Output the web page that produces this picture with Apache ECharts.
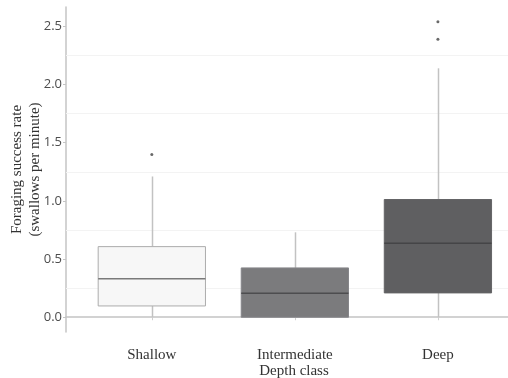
<!DOCTYPE html>
<html>
<head>
<meta charset="utf-8">
<style>
  html, body { margin: 0; padding: 0; background: #ffffff; }
  #chart { width: 508px; height: 378px; }
</style>
<script src="https://cdn.jsdelivr.net/npm/echarts@6/dist/echarts.min.js"></script>
</head>
<body>
<div id="chart"></div>
<script>
// Foraging success rate by depth class (box summaries)
const categories = ['Shallow', 'Intermediate', 'Deep'];
const whiskerLow  = [0.00, 0.00, 0.00];
const quartile1   = [0.097, 0.00, 0.209];
const medians     = [0.33, 0.207, 0.637];
const quartile3   = [0.607, 0.424, 1.012];
const whiskerHigh = [1.21, 0.73, 2.14];

// points beyond the whiskers: category position and value
const outlierCategory = [1, 3, 3];
const outlierValue    = [1.40, 2.39, 2.54];

// axis tick labels and faint reference lines
const yTickValues = [0, 0.5, 1.0, 1.5, 2.0, 2.5];
const gridLineValues = [0.25, 0.75, 1.25, 1.75, 2.25];

// box styling
const boxFill   = ['#f7f7f7', '#7b7b7d', '#5f5f61'];
const boxBorder = ['#acacac', '#86868a', '#646466'];
const medianCol = ['#7a7a7a', '#4d4d4f', '#454547'];
const whiskerCol = '#c2c2c2';
const boxWidth = 0.75;

const boxData = categories.map((c, i) => [
  i + 1, whiskerLow[i], quartile1[i], medians[i], quartile3[i], whiskerHigh[i]
]);
const outlierData = outlierCategory.map((c, i) => [c, outlierValue[i]]);

function renderBox(params, api) {
  const idx = params.dataIndex;
  const x = api.value(0);
  const low = api.coord([x, api.value(1)]);
  const q1 = api.coord([x, api.value(2)]);
  const med = api.coord([x, api.value(3)]);
  const q3 = api.coord([x, api.value(4)]);
  const high = api.coord([x, api.value(5)]);
  const half = api.size([boxWidth, 0])[0] / 2;
  const cx = Math.round(q1[0]) + 0.5;
  const children = [];
  // whiskers
  children.push({
    type: 'line',
    shape: { x1: cx, y1: q3[1], x2: cx, y2: high[1] },
    style: { stroke: whiskerCol, lineWidth: 1.5 }
  });
  if (q1[1] !== low[1]) {
    children.push({
      type: 'line',
      shape: { x1: cx, y1: low[1], x2: cx, y2: q1[1] },
      style: { stroke: whiskerCol, lineWidth: 1.5 }
    });
  }
  // interquartile box
  children.push({
    type: 'rect',
    shape: { x: q1[0] - half, y: q3[1], width: half * 2, height: q1[1] - q3[1] },
    style: { fill: boxFill[idx], stroke: boxBorder[idx], lineWidth: 1 }
  });
  // median
  children.push({
    type: 'line',
    shape: { x1: q1[0] - half, y1: med[1], x2: q1[0] + half, y2: med[1] },
    style: { stroke: medianCol[idx], lineWidth: 1.5 }
  });
  return { type: 'group', children: children };
}

const chart = echarts.init(document.getElementById('chart'), null, { renderer: 'canvas' });

chart.setOption({
  backgroundColor: '#ffffff',
  animation: false,
  grid: { left: 66, right: 0, top: 7, bottom: 46, containLabel: false, outerBoundsMode: 'none' },
  xAxis: {
    type: 'value',
    min: 0.4,
    max: 3.49,
    name: 'Depth class',
    nameLocation: 'middle',
    nameMoveOverlap: false,
    nameGap: 32,
    nameTextStyle: {
      fontFamily: 'Liberation Serif',
      fontSize: 15,
      color: '#333333',
      padding: [0, 0, 0, 14]
    },
    axisLine: { show: true, lineStyle: { color: '#c4c4c4', width: 1.5 } },
    axisTick: {
      show: true,
      customValues: [1, 2, 3],
      length: 3,
      lineStyle: { color: '#d0d0d0' }
    },
    axisLabel: {
      customValues: [1, 2, 3],
      formatter: v => categories[Math.round(v) - 1],
      fontFamily: 'Liberation Serif',
      fontSize: 15,
      color: '#333333',
      margin: 16
    },
    splitLine: { show: false }
  },
  yAxis: {
    type: 'value',
    min: -0.127,
    max: 2.667,
    name: 'Foraging success rate\n(swallows per minute)',
    nameLocation: 'middle',
    nameMoveOverlap: false,
    nameRotate: 90,
    nameGap: 22,
    nameTextStyle: {
      fontFamily: 'Liberation Serif',
      fontSize: 15,
      lineHeight: 18,
      color: '#333333'
    },
    axisLine: { show: true, lineStyle: { color: '#c4c4c4', width: 1.5 } },
    axisTick: {
      show: true,
      customValues: yTickValues,
      length: 3,
      lineStyle: { color: '#c4c4c4' }
    },
    axisLabel: {
      customValues: yTickValues,
      formatter: v => v.toFixed(1),
      fontFamily: 'Open Sans',
      fontSize: 13,
      color: '#4d4d4d',
      margin: 4
    },
    splitLine: { show: false }
  },
  series: [
    {
      type: 'line',
      data: [],
      silent: true,
      z: 1,
      markLine: {
        silent: true,
        z: 1,
        symbol: ['none', 'none'],
        label: { show: false },
        lineStyle: { color: '#f3f3f3', width: 1, type: 'solid' },
        data: gridLineValues.map(v => ({ yAxis: v }))
      }
    },
    {
      type: 'custom',
      renderItem: renderBox,
      encode: { x: 0, y: [1, 2, 3, 4, 5] },
      data: boxData,
      z: 10
    },
    {
      type: 'scatter',
      data: outlierData,
      symbol: 'circle',
      symbolSize: 3,
      itemStyle: { color: '#444444' },
      z: 11
    }
  ]
});
</script>
</body>
</html>
